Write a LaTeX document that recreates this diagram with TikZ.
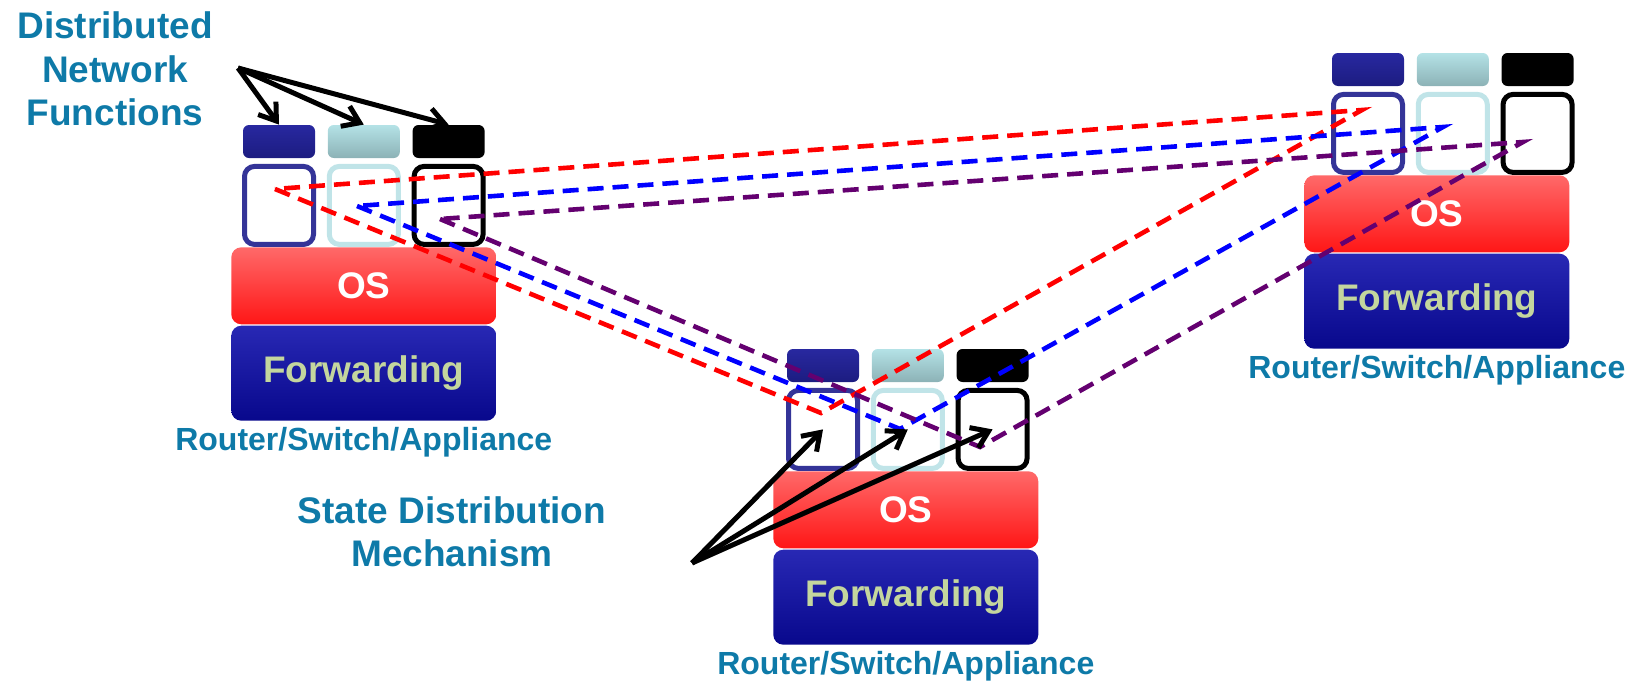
\documentclass[tikz,border=0pt]{standalone}
\usepackage{fontspec}
\setmainfont{Liberation Sans}
\usetikzlibrary{arrows.meta}
\usetikzlibrary{calc}
\usetikzlibrary{positioning}

\definecolor{captionblue}{RGB}{14,122,168}
\definecolor{navytab}{RGB}{40,40,160}
\definecolor{navytabdark}{RGB}{28,28,128}
\definecolor{cyantab}{RGB}{180,226,230}
\definecolor{cyantabdark}{RGB}{140,178,182}
\definecolor{navyline}{RGB}{52,52,152}
\definecolor{cyanline}{RGB}{192,228,232}
\definecolor{ostop}{RGB}{255,105,105}
\definecolor{osbottom}{RGB}{255,22,22}
\definecolor{fwtop}{RGB}{40,40,180}
\definecolor{fwbottom}{RGB}{8,8,140}
\definecolor{fwtext}{RGB}{196,214,158}
\definecolor{spurple}{RGB}{100,0,112}

\begin{document}
\begin{tikzpicture}[x=0.5pt,y=-0.5pt,
    tab/.style={rounded corners=3pt, minimum width=36pt, minimum height=16.5pt, inner sep=0pt},
    fnbox/.style={draw, line width=2.5pt, fill=white, rounded corners=5pt, minimum width=34.5pt, minimum height=39pt, inner sep=0pt},
    layer/.style={rounded corners=5pt, minimum width=132.5pt, inner sep=0pt, font=\bfseries\fontsize{18.5}{21}\selectfont},
    caption/.style={text=captionblue, font=\bfseries\fontsize{18.5}{21.75}\selectfont, align=center},
    devlabel/.style={text=captionblue, font=\bfseries\fontsize{16}{18}\selectfont, inner sep=0pt},
    state/.style={line width=2.3pt, dash pattern=on 8pt off 4.5pt},
    pointer/.style={line width=2.5pt, -{Straight Barb[length=8pt, width=11pt, line width=2.5pt]}}]
    \useasboundingbox (0,0) rectangle (1634,691);

    % three devices: tabs, function boxes, OS, forwarding
    \foreach \d/\x/\y/\s in {l/279/141.5/0pt, m/823/365.5/-1pt, r/1368/69.5/-8pt}{
        \node[tab, top color=navytab, bottom color=navytabdark] (\d t1) at (\x,\y) {};
        \node[tab, top color=cyantab, bottom color=cyantabdark, right=6pt of \d t1] (\d t2) {};
        \node[tab, fill=black, right=6pt of \d t2] (\d t3) {};
        \node[fnbox, draw=navyline, below=2.75pt of \d t1] (\d f1) {};
        \node[fnbox, draw=cyanline, below=2.75pt of \d t2] (\d f2) {};
        \node[fnbox, draw=black, below=2.75pt of \d t3] (\d f3) {};
        \node[layer, top color=ostop, bottom color=osbottom, text=white, minimum height=38.5pt,
              below=0pt of \d f2, xshift=\s] (\d os) {OS};
        \node[layer, top color=fwtop, bottom color=fwbottom, text=fwtext, minimum height=47.5pt,
              below=0.3pt of \d os] (\d fw) {Forwarding};
        \node[devlabel, below=3pt of \d fw] (\d lab) {Router/Switch/Appliance};
    }

    \node[caption] (dnf) at (115,69) {Distributed\\Network\\Functions};
    \node[caption] (sdm) at (452,532) {State Distribution\\Mechanism};
    \coordinate (dnftail) at (238,68);
    \coordinate (sdmtail) at (692,563);

    % state points inside the function boxes
    \coordinate (lred) at (275,189);
    \coordinate (mred) at (821,413);
    \coordinate (rred) at (1362,110);
    \coordinate (lblue) at (357,206);
    \coordinate (mblue) at (900,429);
    \coordinate (rblue) at (1443,127);
    \coordinate (lpurple) at (440,219);
    \coordinate (mpurple) at (980,447);
    \coordinate (rpurple) at (1523,142);

    \foreach \c/\col in {red/red, blue/blue, purple/spurple}
        \draw[state, \col] (l\c) -- (m\c) -- (r\c) -- cycle;

    \foreach \i in {1,2,3}{
        \draw[pointer] (dnftail) -- (lt\i.north);
        \draw[pointer] (sdmtail) -- (mf\i.center);
    }
\end{tikzpicture}
\end{document}
